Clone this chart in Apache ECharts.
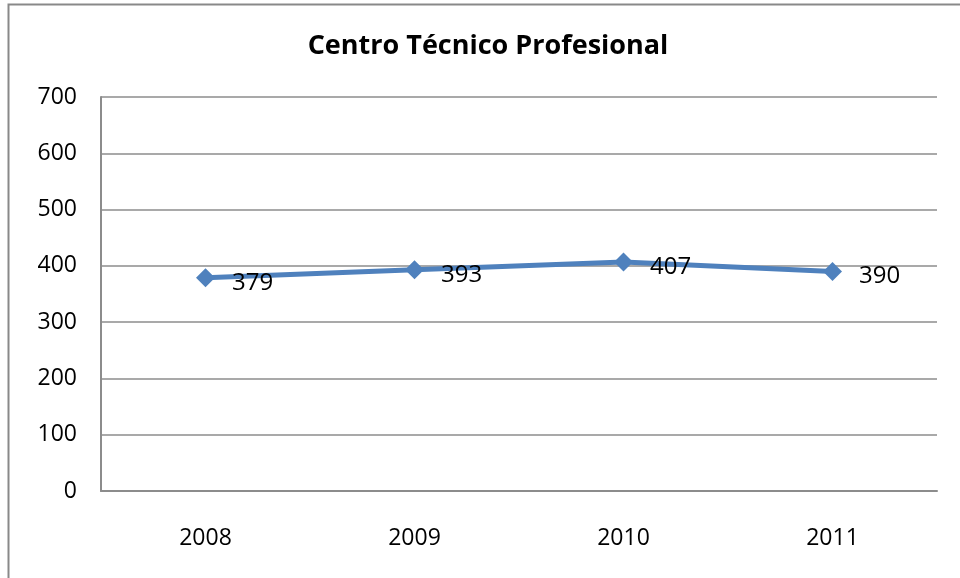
<!DOCTYPE html>
<html><head><meta charset="utf-8">
<script src="https://cdn.jsdelivr.net/npm/echarts@6/dist/echarts.min.js"></script>
<style>html,body{margin:0;padding:0;background:#fff}#c{width:960px;height:578px}</style>
</head><body><div id="c"></div>
<script>
const title = 'Centro Técnico Profesional';
const years = ['2008', '2009', '2010', '2011'];
const values = [379, 393, 407, 390];
const yTicks = [0, 100, 200, 300, 400, 500, 600, 700];

const chart = echarts.init(document.getElementById('c'));
const font = '"Open Sans", "Noto Sans", sans-serif';
chart.setOption({
  animation: false,
  backgroundColor: '#fff',
  graphic: [{
    type: 'rect', shape: {x: 8.5, y: 4.5, width: 1000, height: 1000},
    style: {fill: 'none', stroke: '#898989', lineWidth: 2}
  }],
  title: {
    text: title, left: 483, top: 28, textAlign: 'center',
    textStyle: {fontFamily: font, fontWeight: 'bold', fontSize: 27, color: '#000'}
  },
  grid: {left: 101, right: 23, top: 97, bottom: 87},
  xAxis: {
    type: 'category', data: years, boundaryGap: true,
    axisLine: {lineStyle: {color: '#8c8c8c', width: 2}},
    axisTick: {show: false},
    axisLabel: {fontFamily: font, fontSize: 23, color: '#000', margin: 36}
  },
  yAxis: {
    type: 'value', min: yTicks[0], max: yTicks[yTicks.length - 1], interval: 100,
    axisLine: {show: true, lineStyle: {color: '#8c8c8c', width: 2}},
    axisTick: {show: false},
    splitLine: {lineStyle: {color: '#8c8c8c', width: 1.5}},
    axisLabel: {fontFamily: font, fontSize: 23, color: '#000', margin: 24}
  },
  series: [{
    type: 'line', data: values,
    symbol: 'diamond', symbolSize: 19,
    lineStyle: {color: '#4F81BD', width: 5},
    itemStyle: {color: '#4F81BD'},
    label: {
      show: true, position: 'right', distance: 0, offset: [17, 5],
      fontFamily: font, fontSize: 24, color: '#000'
    }
  }]
});
</script></body></html>
